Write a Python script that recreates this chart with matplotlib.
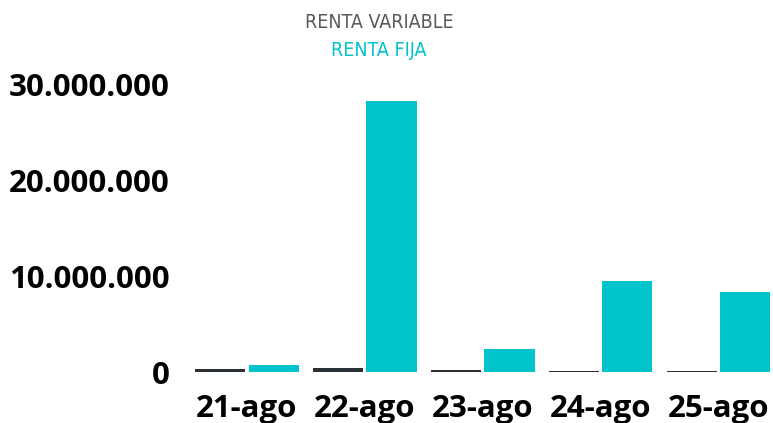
import matplotlib
matplotlib.use("Agg")
import matplotlib.pyplot as plt
import numpy as np
from matplotlib.ticker import FuncFormatter

dates = ["21-ago", "22-ago", "23-ago", "24-ago", "25-ago"]
renta_variable = [300000, 400000, 200000, 100000, 100000]
renta_fija = [730000, 28200000, 2400000, 9500000, 8350000]

dark = "#2b3035"
teal = "#00c3cb"

fig = plt.figure(figsize=(7.73, 4.23), dpi=100)
W, H = 773, 423
# axes box in pixels: left 188, right 773, bottom 372, top 60
ax = fig.add_axes([188 / W, 1 - 372 / H, (773 - 188) / W, (372 - 60) / H])

x = np.arange(len(dates))
w = 0.425
ax.bar(x - w / 2 - 0.013, renta_variable, width=w, color=dark)
ax.bar(x + w / 2 + 0.013, renta_fija, width=w, color=teal)

ax.set_xlim(-0.5, 4.46)
ax.set_ylim(0, 32.5e6)
ax.set_yticks([0, 10e6, 20e6, 30e6])
ax.yaxis.set_major_formatter(FuncFormatter(lambda v, p: f"{int(v):,}".replace(",", ".")))
ax.set_xticks(x)
ax.set_xticklabels(dates)

for lab in ax.get_yticklabels():
    lab.set_family("Open Sans")
    lab.set_fontweight("bold")
    lab.set_fontsize(22.5)
    lab.set_color("black")
for lab in ax.get_xticklabels():
    lab.set_family("Open Sans")
    lab.set_fontweight("bold")
    lab.set_fontsize(22.5)
    lab.set_color("black")
ax.tick_params(axis="y", length=0, pad=13)
ax.tick_params(axis="x", length=0, pad=16)
for s in ax.spines.values():
    s.set_visible(False)

fig.text(379 / W, 1 - 23 / H, "RENTA VARIABLE", ha="center", va="center",
         color="#5a5a5a", fontsize=14, family="DejaVu Sans", stretch="condensed")
fig.text(379 / W, 1 - 50 / H, "RENTA FIJA", ha="center", va="center",
         color=teal, fontsize=14, family="DejaVu Sans", stretch="condensed")

fig.savefig("out.png", dpi=100)
